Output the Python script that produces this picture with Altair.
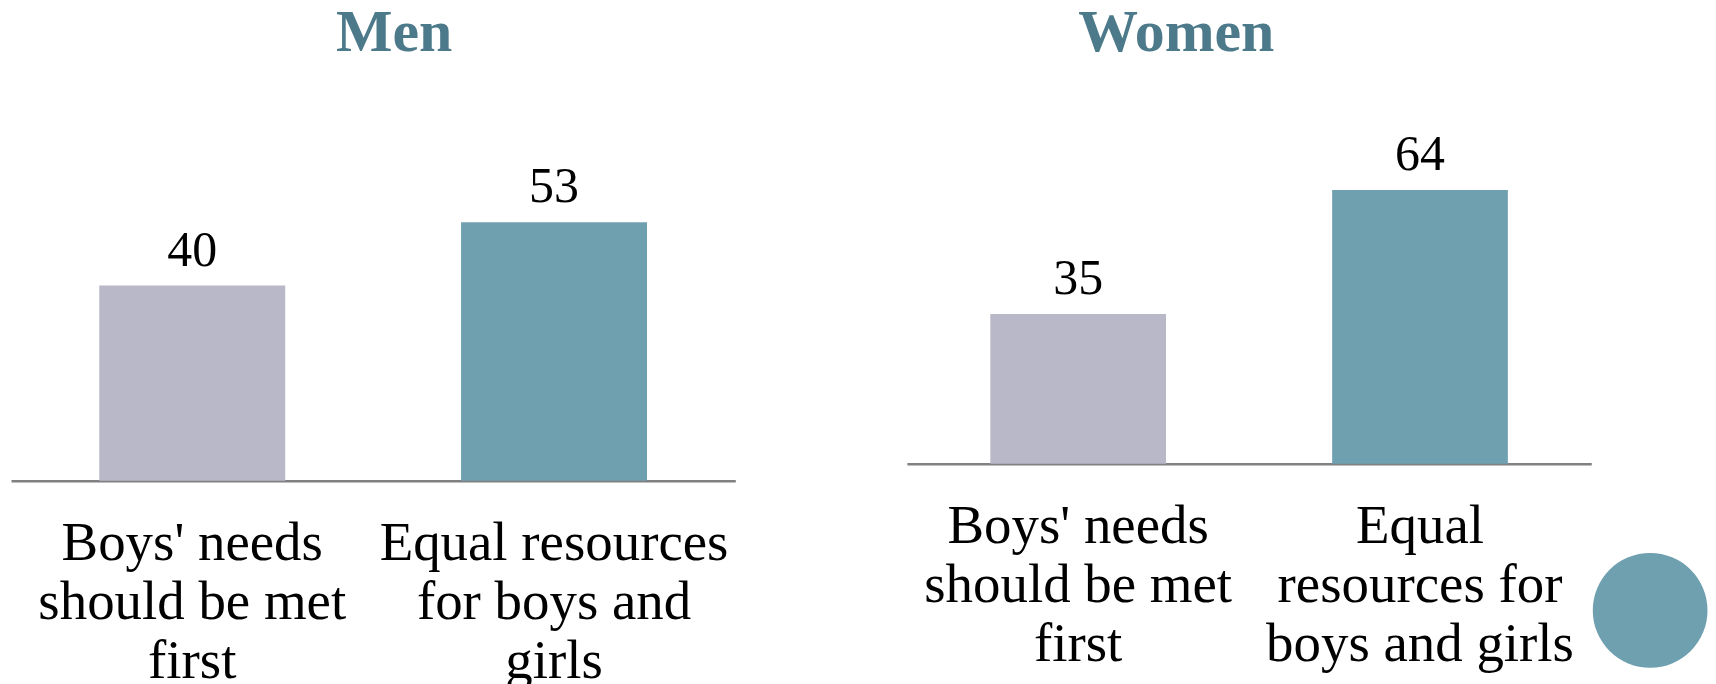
import altair as alt
import pandas as pd

# ---- data ----
series = ["Boys first", "Equal"]
men_categories = ["Boys' needs|should be met|first", "Equal resources|for boys and|girls"]
men_values = [40, 53]
women_categories = ["Boys' needs|should be met|first", "Equal|resources for|boys and girls"]
women_values = [35, 64]
bar_colors = ["#b9b8c8", "#6fa0b0"]
title_color = "#4d7a8a"
FONT = "Liberation Serif"


def panel(title, cats, vals, width, height, ymax, title_dx, extra=None):
    df = pd.DataFrame({"cat": cats, "value": vals, "series": series})
    base = alt.Chart(df)
    xscale = alt.Scale(paddingInner=0.486, paddingOuter=0.244)
    x = alt.X(
        "cat:N",
        sort=None,
        scale=xscale,
        axis=alt.Axis(
            title=None,
            labelAngle=0,
            labelExpr="split(datum.label, '|')",
            labelFont=FONT,
            labelFontSize=55,
            labelColor="#000000",
            labelLineHeight=59,
            labelPadding=36,
            labelLimit=2000,
            labelOverlap=False,
            ticks=False,
            domainColor="#808080",
            domainWidth=2.5,
            grid=False,
        ),
    )
    y = alt.Y("value:Q", scale=alt.Scale(domain=[0, ymax]), axis=None)
    bars = base.mark_bar().encode(
        x=x,
        y=y,
        color=alt.Color("series:N", scale=alt.Scale(domain=series, range=bar_colors), legend=None),
    )
    texts = base.mark_text(
        font=FONT, fontSize=50, baseline="alphabetic", dy=-20, color="#000000"
    ).encode(x=alt.X("cat:N", sort=None, scale=xscale), y=y, text=alt.Text("value:Q", format="d"))
    layers = [bars, texts]
    if extra is not None:
        layers.append(extra)
    return alt.layer(*layers).properties(
        width=width,
        height=height,
        title=alt.TitleParams(
            title,
            font=FONT,
            fontSize=60,
            fontWeight="bold",
            color=title_color,
            anchor="middle",
            frame="group",
            dx=title_dx,
            offset=30,
        ),
    )


dot = alt.Chart(pd.DataFrame({"k": [0]})).mark_circle(
    size=13225, color="#6fa0b0", opacity=1
).encode(x=alt.value(745), y=alt.value(518))

left = panel("Men", men_categories, men_values, 726, 388, 388 / 4.89, 21)
right = panel("Women", women_categories, women_values, 686, 371, 371 / 4.286, -73, extra=dot)

chart = (
    alt.hconcat(left, right, spacing=172)
    .properties(padding={"left": 3, "top": -6, "right": 0, "bottom": 0})
    .configure(background="#ffffff")
    .configure_view(strokeWidth=0, stroke="transparent")
)

chart.save("out.html", embed_options={"renderer": "svg", "actions": False})
